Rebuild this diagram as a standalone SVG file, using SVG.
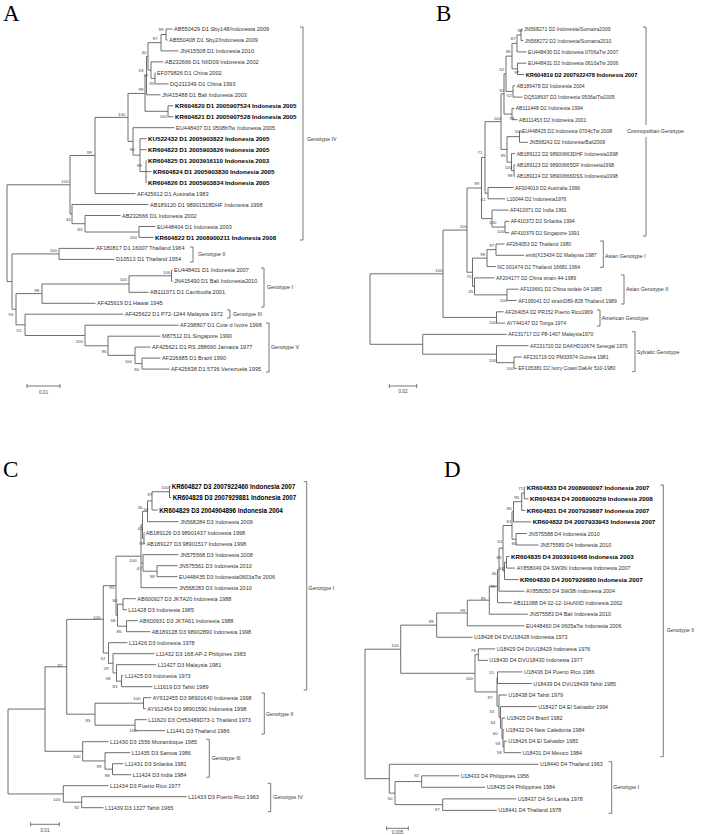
<svg xmlns="http://www.w3.org/2000/svg" width="703" height="835" viewBox="0 0 703 835">
<style>
text{font-family:"Liberation Sans",Arial,sans-serif;dominant-baseline:central;fill:#333}
.a{font-size:5.6px}.ab{font-size:6.2px;font-weight:bold;fill:#000}
.b{font-size:5.1px}.bb{font-size:5.7px;font-weight:bold;fill:#000}
.c{font-size:5.5px}.cb{font-size:6.3px;font-weight:bold;fill:#000}
.d{font-size:5.4px}.db{font-size:6.25px;font-weight:bold;fill:#000}
.bs{font-size:4.4px;text-anchor:middle;fill:#444}
.g{font-size:5.3px;fill:#333}
.sc{font-size:4.6px;text-anchor:middle;fill:#444}
.L{font-family:"Liberation Serif","Times New Roman",serif;font-size:23px;fill:#000;dominant-baseline:auto}
.tr{fill:none;stroke:#5e5e5e;stroke-width:0.9}
.br{fill:none;stroke:#555;stroke-width:0.8}
</style>
<rect width="703" height="835" fill="#fff"/>
<g id="letters">
<text class="L" x="3" y="21">A</text>
<text class="L" x="436" y="21">B</text>
<text class="L" x="3" y="477">C</text>
<text class="L" x="444" y="477">D</text>
</g>
<g id="connectors">
<path class="tr" d="M166 29V40M166 29H172.5M166 40H167.5M161 34.5V50.9M161 34.5H166M161 50.9H178.5M155 72.9V83.9M155 72.9H155.5M155 83.9H168.5M151 61.9V78.4M151 61.9H163.5M151 78.4H155M148 42.7V70.15M148 42.7H161M148 70.15H151M146.5 56.4V94.8M146.5 56.4H148M146.5 94.8H160.5M168 105.8V116.8M168 105.8H173.5M168 116.8H173.5M145 75.6V111.3M145 75.6H146.5M145 111.3H168M146 160.6V182.6M146 160.6H146.5M146 171.6H151.5M146 182.6H146.5M140 138.7V171.6M140 138.7H146.5M140 149.7H146.5M140 171.6H146M133 127.7V155.15M133 127.7H174.5M133 155.15H140M128 93.45V141.4M128 93.45H145M128 141.4H133M95 117.4V193.6M95 117.4H128M95 193.6H135.5M139 226.5V237.4M139 226.5H155.5M139 237.4H153.5M85 215.5V232M85 215.5H120.5M85 232H139M72 204.5V223.7M72 204.5H148.5M72 223.7H85M70 155.5V214.1M70 155.5H95M70 214.1H72M59 248.4V259.4M59 248.4H94.5M59 259.4H114.5M171.5 270.3V281.3M171.5 270.3H172.5M171.5 281.3H172.5M129 275.8V292.3M129 275.8H171.5M129 292.3H148.5M42 284V303.3M42 284H129M42 303.3H95.5M142 358.1V369.1M142 358.1H160.5M142 369.1H169.5M135 347.1V363.6M135 347.1H150.5M135 363.6H142M108 336.2V355.35M108 336.2H160.5M108 355.35H135M85 325.2V345.8M85 325.2H178.5M85 345.8H108M25 314.2V335.5M25 314.2H123.5M25 335.5H85M16 293.6V324.85M16 293.6H42M16 324.85H25M12 253.9V309.2M12 253.9H59M12 309.2H16M7 184.8V281.55M7 184.8H70M7 281.55H12"/>
<path class="tr" d="M521 29.3V40.6M521 29.3H522.5M521 40.6H523.2M517 34.95V51.9M517 34.95H521M517 51.9H526.5M517.5 63.2V74.5M517.5 63.2H526.5M517.5 74.5H524.2M512 43.4V68.85M512 43.4H517M512 68.85H517.5M513 85.8V97.1M513 85.8H515.2M513 97.1H522.5M506 56.1V91.45M506 56.1H512M506 91.45H513M512 108.4V119.7M512 108.4H514.2M512 119.7H517.5M504 73.8V114.05M504 73.8H506M504 114.05H512M519.5 131V142.3M519.5 131H520.5M519.5 142.3H527.8M514 164.9V176.2M514 164.9H515.2M514 176.2H515.2M511.5 153.6V170.55M511.5 153.6H515.2M511.5 170.55H514M507 136.65V162.1M507 136.65H519.5M507 162.1H511.5M501 93.9V149.4M501 93.9H504M501 149.4H507M488 187.5V198.8M488 187.5H513.5M488 198.8H505.2M485 121.65V193.15M485 121.65H501M485 193.15H488M505 221.4V232.7M505 221.4H509.2M505 232.7H509.2M492 210.1V227.05M492 210.1H508.5M492 227.05H505M481.5 157.4V218.6M481.5 157.4H485M481.5 218.6H492M496 244V255.3M496 244H504.5M496 255.3H524.2M487 249.65V266.6M487 249.65H496M487 266.6H495.8M507 289.2V300.5M507 289.2H518.5M507 300.5H516.8M474.5 277.9V294.85M474.5 277.9H494.5M474.5 294.85H507M472.5 258.1V286.4M472.5 258.1H487M472.5 286.4H474.5M467 188V272.25M467 188H481.5M467 272.25H472.5M496.5 311.8V323.1M496.5 311.8H503.5M496.5 323.1H505.2M443 230.1V317.45M443 230.1H467M443 317.45H496.5M514 357V368.3M514 357H521.8M514 368.3H516.8M496.5 345.7V362.65M496.5 345.7H528.5M496.5 362.65H514M422.7 334.4V354.2M422.7 334.4H506.8M422.7 354.2H496.5M370 273.8V344.3M370 273.8H443M370 344.3H422.7"/>
<path class="tr" d="M169.5 486V497.5M169.5 486H170.5M169.5 497.5H171.2M152 491.75V510M152 491.75H169.5M152 510H157.8M147.5 500.9V521.7M147.5 500.9H152M147.5 521.7H178.5M144 532.7V543.7M144 532.7H144.5M144 543.7H145.2M142.5 511.3V538.2M142.5 511.3H147.5M142.5 538.2H144M157 565.7V576.7M157 565.7H177.5M157 576.7H177.5M143 554.7V571.2M143 554.7H178.5M143 571.2H157M141 524.75V587.7M141 524.75H142.5M141 563H143M141 587.7H177.5M123 598.7V609.7M123 598.7H135.8M123 609.7H126.8M126.5 620.7V631.7M126.5 620.7H137.8M126.5 631.7H150.2M117.5 604.2V626.2M117.5 604.2H123M117.5 626.2H126.5M116 556.2V615.2M116 556.2H141M116 615.2H117.5M121.5 675.7V686.7M121.5 675.7H123.5M121.5 686.7H152.5M116.5 664.7V681.2M116.5 664.7H156.2M116.5 681.2H121.5M113 653.7V672.95M113 653.7H154.5M113 672.95H116.5M108.5 642.7V663.3M108.5 642.7H127.5M108.5 663.3H113M103.3 585.7V653M103.3 585.7H116M103.3 653H108.5M143.5 697.7V708.7M143.5 697.7H151.2M143.5 708.7H145.8M135 719.7V730.7M135 719.7H146.8M135 730.7H165.2M95 703.2V725.2M95 703.2H143.5M95 725.2H135M66.7 619.35V714.2M66.7 619.35H103.3M66.7 714.2H95M112.5 763.7V774.7M112.5 763.7H123.5M112.5 774.7H131.2M105 752.7V769.2M105 752.7H130.2M105 769.2H112.5M82.7 741.7V760.95M82.7 741.7H108.5M82.7 760.95H105M45 666.8V751.3M45 666.8H66.7M45 751.3H82.7M81.7 796.7V807.7M81.7 796.7H186.8M81.7 807.7H103.5M63.3 785.7V802.2M63.3 785.7H108.5M63.3 802.2H81.7M8 709.05V793.95M8 709.05H45M8 793.95H63.3"/>
<path class="tr" d="M524.3 487.3V498.8M524.3 487.3H525.2M524.3 498.8H528.5M521.7 493.05V510.4M521.7 493.05H524.3M521.7 510.4H525.2M513.5 501.7V521.9M513.5 501.7H521.7M513.5 521.9H531.2M516 533.5V545M516 533.5H526.8M516 545H538.5M512 511.8V539.25M512 511.8H513.5M512 539.25H516M506.5 556.5V568.1M506.5 556.5H509.5M506.5 568.1H515.2M504.5 562.3V579.6M504.5 562.3H506.5M504.5 579.6H518.5M503 525.5V570.95M503 525.5H512M503 570.95H504.5M499 548.2V591.2M499 548.2H503M499 591.2H524.5M497.5 569.7V602.7M497.5 569.7H499M497.5 602.7H511.8M489.3 586.2V614.2M489.3 586.2H497.5M489.3 614.2H527.8M467.3 600.2V625.8M467.3 600.2H489.3M467.3 625.8H524.5M436.7 613V637.3M436.7 613H467.3M436.7 637.3H472.5M478.3 648.9V660.4M478.3 648.9H495.2M478.3 660.4H487.8M497.5 671.9V683.5M497.5 671.9H522.5M497.5 683.5H531.8M504 741.2V752.7M504 741.2H506.8M504 752.7H521.2M503 729.6V746.95M503 729.6H504.2M503 746.95H504M502 718.1V738.3M502 718.1H505.2M502 738.3H503M500.5 706.6V728.2M500.5 706.6H536.8M500.5 728.2H502M499 695V717.4M499 695H506.8M499 717.4H500.5M497 677.7V706.2M497 677.7H497.5M497 706.2H499M475 654.65V691.95M475 654.65H478.3M475 691.95H497M400.7 625.15V673.3M400.7 625.15H436.7M400.7 673.3H475M421.7 775.8V787.3M421.7 775.8H459.2M421.7 787.3H485.2M442.7 798.9V810.4M442.7 798.9H516.2M442.7 810.4H496.8M395 781.55V804.65M395 781.55H421.7M395 804.65H442.7M389.3 764.3V793.1M389.3 764.3H538.5M389.3 793.1H395M365 649.2V778.7M365 649.2H400.7M365 778.7H389.3"/>
</g>
<g id="leavesA">
<g id="a1"><text class="a" x="174" y="29">AB550429 D1 Sby148/Indonesia 2009</text></g>
<g id="a2"><text class="a" x="169" y="40">AB550408 D1 Sby2/Indonesia 2009</text></g>
<g id="a3"><text class="a" x="180" y="50.9">JN415508 D1 Indonesia 2010</text></g>
<g id="a4"><text class="a" x="165" y="61.9">AB232666 D1 NIID09 Indonesia 2002</text></g>
<g id="a5"><text class="a" x="157" y="72.9">EF079826 D1 China 2002</text></g>
<g id="a6"><text class="a" x="170" y="83.9">DQ211349 D1 China 1993</text></g>
<g id="a7"><text class="a" x="162" y="94.8">JN415488 D1 Bali Indonesia 2003</text></g>
<g id="a8"><text class="ab" x="175" y="105.8">KR604820 D1 2005907524 Indonesia 2005</text></g>
<g id="a9"><text class="ab" x="175" y="116.8">KR604821 D1 2005907528 Indonesia 2005</text></g>
<g id="a10"><text class="a" x="176" y="127.7">EU448407 D1 0508bTw Indonesia 2005</text></g>
<g id="a11"><text class="ab" x="148" y="138.7">KU522432 D1 2005903822 Indonesia 2005</text></g>
<g id="a12"><text class="ab" x="148" y="149.7">KR604823 D1 2005903826 Indonesia 2005</text></g>
<g id="a13"><text class="ab" x="148" y="160.6">KR604825 D1 2003916110 Indonesia 2003</text></g>
<g id="a14"><text class="ab" x="153" y="171.6">KR604824 D1 2005903830 Indonesia 2005</text></g>
<g id="a15"><text class="ab" x="148" y="182.6">KR604826 D1 2005903834 Indonesia 2005</text></g>
<g id="a16"><text class="a" x="137" y="193.6">AF425612 D1 Australia 1983</text></g>
<g id="a17"><text class="a" x="150" y="204.5">AB189120 D1 98901518DHF Indonesia 1998</text></g>
<g id="a18"><text class="a" x="122" y="215.5">AB232666 D1 Indonesia 2002</text></g>
<g id="a19"><text class="a" x="157" y="226.5">EU448404 D1 Indonesia 2003</text></g>
<g id="a20"><text class="ab" x="155" y="237.4">KR604822 D1 2008900211 Indonesia 2008</text></g>
<g id="a21"><text class="a" x="96" y="248.4">AF180817 D1 16007 Thailand 1964</text></g>
<g id="a22"><text class="a" x="116" y="259.4">D10513 D1 Thailand 1954</text></g>
<g id="a23"><text class="a" x="174" y="270.3">EU448401 D1 Indonesia 2007</text></g>
<g id="a24"><text class="a" x="174" y="281.3">JN415490 D1 Bali Indonesia2010</text></g>
<g id="a25"><text class="a" x="150" y="292.3">AB111071 D1 Cambodia 2001</text></g>
<g id="a26"><text class="a" x="97" y="303.3">AF425619 D1 Hawai 1945</text></g>
<g id="a27"><text class="a" x="125" y="314.2">AF425622 D1 P72-1244 Malaysia 1972</text></g>
<g id="a28"><text class="a" x="180" y="325.2">AF298807 D1 Cote d Ivoire 1998</text></g>
<g id="a29"><text class="a" x="162" y="336.2">M87512 D1 Singapore 1990</text></g>
<g id="a30"><text class="a" x="152" y="347.1">AF425621 D1 RS 288690 Jamaica 1977</text></g>
<g id="a31"><text class="a" x="162" y="358.1">AF226685 D1 Brazil 1990</text></g>
<g id="a32"><text class="a" x="171" y="369.1">AF425638 D1 5736 Venezuela 1995</text></g>
</g>
<g id="leavesB">
<g id="b1"><text class="b" x="524" y="29.3">JN568271 D2 Indonesia/Sumatra2009</text></g>
<g id="b2"><text class="b" x="524.7" y="40.6">JN568272 D2 Indonesia/Sumatra2010</text></g>
<g id="b3"><text class="b" x="528" y="51.9">EU448430 D2 Indonesia 0706aTw 2007</text></g>
<g id="b4"><text class="b" x="528" y="63.2">EU448431 D2 Indonesia 0610aTw 2006</text></g>
<g id="b5"><text class="bb" x="525.7" y="74.5">KR604819 D2 2007922478 Indonesia 2007</text></g>
<g id="b6"><text class="b" x="516.7" y="85.8">AB186478 D2 Indonesia 2004</text></g>
<g id="b7"><text class="b" x="524" y="97.1">DQ518637 D2 Indonesia 0506a/Tw2005</text></g>
<g id="b8"><text class="b" x="515.7" y="108.4">AB111448 D2 Indonesia 1994</text></g>
<g id="b9"><text class="b" x="519" y="119.7">AB111453 D2 Indonesia 2001</text></g>
<g id="b10"><text class="b" x="522" y="131">EU448425 D2 Indonesia 0704cTw 2008</text></g>
<g id="b11"><text class="b" x="529.3" y="142.3">JN568242 D2 Indonesia/Bali2009</text></g>
<g id="b12"><text class="b" x="516.7" y="153.6">AB189122 D2 98900663DHF Indonesia1998</text></g>
<g id="b13"><text class="b" x="516.7" y="164.9">AB189123 D2 98900665DF Indonesia1998</text></g>
<g id="b14"><text class="b" x="516.7" y="176.2">AB189124 D2 98900666DSS Indonesia1998</text></g>
<g id="b15"><text class="b" x="515" y="187.5">AF004019 D2 Australia 1996</text></g>
<g id="b16"><text class="b" x="506.7" y="198.8">L10044 D2 Indonesia1976</text></g>
<g id="b17"><text class="b" x="510" y="210.1">AF410371 D2 India 1991</text></g>
<g id="b18"><text class="b" x="510.7" y="221.4">AF410372 D2 Srilanka 1994</text></g>
<g id="b19"><text class="b" x="510.7" y="232.7">AF410379 D2 Singapore 1991</text></g>
<g id="b20"><text class="b" x="506" y="244">AF264053 D2 Thailand 1980</text></g>
<g id="b21"><text class="b" x="525.7" y="255.3">emb|X15434 D2 Malaysia 1987</text></g>
<g id="b22"><text class="b" x="497.3" y="266.6">NC 001474 D2 Thailand 16681 1964</text></g>
<g id="b23"><text class="b" x="496" y="277.9">AF204177 D2 China strain 44-1989</text></g>
<g id="b24"><text class="b" x="520" y="289.2">AF119661 D2 China isolate 04 1985</text></g>
<g id="b25"><text class="b" x="518.3" y="300.5">AF195041 D2 strainD89-828 Thailand 1989</text></g>
<g id="b26"><text class="b" x="505" y="311.8">AF264054 D2 PR152 Puerto Rico1969</text></g>
<g id="b27"><text class="b" x="506.7" y="323.1">AY744147 D2 Tonga 1974</text></g>
<g id="b28"><text class="b" x="508.3" y="334.4">AF231717 D2 P8-1407 Malaysia1970</text></g>
<g id="b29"><text class="b" x="530" y="345.7">AF231720 D2 DAKHD10674 Senegal 1970</text></g>
<g id="b30"><text class="b" x="523.3" y="357">AF231719 D2 PM33974 Guinea 1981</text></g>
<g id="b31"><text class="b" x="518.3" y="368.3">EF105381 D2 Ivory Coast DakAr 510-1980</text></g>
</g>
<g id="leavesC">
<g id="c1"><text class="cb" x="171.7" y="486">KR604827 D3 2007922460 Indonesia 2007</text></g>
<g id="c2"><text class="cb" x="172.7" y="497.5">KR604828 D3 2007929881 Indonesia 2007</text></g>
<g id="c3"><text class="cb" x="159.3" y="510">KR604829 D3 2004904896 Indonesia 2004</text></g>
<g id="c4"><text class="c" x="180" y="521.7">JN568284 D3 Indonesia 2009</text></g>
<g id="c5"><text class="c" x="145.7" y="532.7">AB189126 D3 98901437 Indonesia 1998</text></g>
<g id="c6"><text class="c" x="146.7" y="543.7">AB189127 D3 98901517 Indonesia 1998</text></g>
<g id="c7"><text class="c" x="180" y="554.7">JN575568 D3 Indonesia 2008</text></g>
<g id="c8"><text class="c" x="179" y="565.7">JN575561 D3 Indonesia 2010</text></g>
<g id="c9"><text class="c" x="179" y="576.7">EU448435 D3 Indonesia0603aTw 2006</text></g>
<g id="c10"><text class="c" x="179" y="587.7">JN568283 D3 Indonesia 2010</text></g>
<g id="c11"><text class="c" x="137.3" y="598.7">AB600927 D3 JKTA20 Indonesia 1988</text></g>
<g id="c12"><text class="c" x="128.3" y="609.7">L11428 D3 Indonesia 1985</text></g>
<g id="c13"><text class="c" x="139.3" y="620.7">AB600931 D3 JKTA61 Indonesia 1988</text></g>
<g id="c14"><text class="c" x="151.7" y="631.7">AB189128 D3 98902890 Indonesia 1998</text></g>
<g id="c15"><text class="c" x="129" y="642.7">L11426 D3 Indonesia 1978</text></g>
<g id="c16"><text class="c" x="156" y="653.7">L11432 D3 168.AP-2 Philipines 1983</text></g>
<g id="c17"><text class="c" x="157.7" y="664.7">L11427 D3 Malaysia 1981</text></g>
<g id="c18"><text class="c" x="125" y="675.7">L11425 D3 Indonesia 1973</text></g>
<g id="c19"><text class="c" x="154" y="686.7">L11619 D3 Tahiti 1989</text></g>
<g id="c20"><text class="c" x="152.7" y="697.7">AY912455 D3 98901640 Indonesia 1998</text></g>
<g id="c21"><text class="c" x="147.3" y="708.7">AY912454 D3 98901590 Indonesia 1998</text></g>
<g id="c22"><text class="c" x="148.3" y="719.7">L11620 D3 CH53489D73-1 Thailand 1973</text></g>
<g id="c23"><text class="c" x="166.7" y="730.7">L11441 D3 Thailand 1986</text></g>
<g id="c24"><text class="c" x="110" y="741.7">L11430 D3 1556 Mozambique 1985</text></g>
<g id="c25"><text class="c" x="131.7" y="752.7">L11435 D3 Samoa 1986</text></g>
<g id="c26"><text class="c" x="125" y="763.7">L11431 D3 Srilanka 1981</text></g>
<g id="c27"><text class="c" x="132.7" y="774.7">L11424 D3 India 1984</text></g>
<g id="c28"><text class="c" x="110" y="785.7">L11434 D3 Puerto Rico 1977</text></g>
<g id="c29"><text class="c" x="188.3" y="796.7">L11433 D3 Puerto Rico 1963</text></g>
<g id="c30"><text class="c" x="105" y="807.7">L11439 D3 1327 Tahiti 1965</text></g>
</g>
<g id="leavesD">
<g id="d1"><text class="db" x="526.7" y="487.3">KR604833 D4 2008900097 Indonesia 2007</text></g>
<g id="d2"><text class="db" x="530" y="498.8">KR604834 D4 2008900259 Indonesia 2008</text></g>
<g id="d3"><text class="db" x="526.7" y="510.4">KR604831 D4 2007929887 Indonesia 2007</text></g>
<g id="d4"><text class="db" x="532.7" y="521.9">KR604832 D4 2007933943 Indonesia 2007</text></g>
<g id="d5"><text class="d" x="528.3" y="533.5">JN575588 D4 Indonesia 2010</text></g>
<g id="d6"><text class="d" x="540" y="545">JN575589 D4 Indonesia 2010</text></g>
<g id="d7"><text class="db" x="511" y="556.5">KR604835 D4 2003910468 Indonesia 2003</text></g>
<g id="d8"><text class="d" x="516.7" y="568.1">AY858049 D4 SW36i Indonesia Indonesia 2007</text></g>
<g id="d9"><text class="db" x="520" y="579.6">KR604830 D4 2007929880 Indonesia 2007</text></g>
<g id="d10"><text class="d" x="526" y="591.2">AY858050 D4 SW38i Indonesia 2004</text></g>
<g id="d11"><text class="d" x="513.3" y="602.7">AB111088 D4 02-12-1HuNIID Indonesia 2002</text></g>
<g id="d12"><text class="d" x="529.3" y="614.2">JN575583 D4 Bali Indonesia 2010</text></g>
<g id="d13"><text class="d" x="526" y="625.8">EU448460 D4 0605aTw Indonesia 2006</text></g>
<g id="d14"><text class="d" x="474" y="637.3">U18428 D4 DVU18428 Indonesia 1973</text></g>
<g id="d15"><text class="d" x="496.7" y="648.9">U18429 D4 DVU18429 Indonesia 1976</text></g>
<g id="d16"><text class="d" x="489.3" y="660.4">U18430 D4 DVU18430 Indonesia 1977</text></g>
<g id="d17"><text class="d" x="524" y="671.9">U18436 D4 Puerto Rico 1986</text></g>
<g id="d18"><text class="d" x="533.3" y="683.5">U18439 D4 DVU18439 Tahiti 1985</text></g>
<g id="d19"><text class="d" x="508.3" y="695">U18438 D4 Tahiti 1979</text></g>
<g id="d20"><text class="d" x="538.3" y="706.6">U18427 D4 El Salvador 1994</text></g>
<g id="d21"><text class="d" x="506.7" y="718.1">U18425 D4 Brazil 1982</text></g>
<g id="d22"><text class="d" x="505.7" y="729.6">U18432 D4 New Caledonia 1984</text></g>
<g id="d23"><text class="d" x="508.3" y="741.2">U18426 D4 El Salvador 1983</text></g>
<g id="d24"><text class="d" x="522.7" y="752.7">U18431 D4 Mexico 1984</text></g>
<g id="d25"><text class="d" x="540" y="764.3">U18440 D4 Thailand 1963</text></g>
<g id="d26"><text class="d" x="460.7" y="775.8">U18433 D4 Philippines 1956</text></g>
<g id="d27"><text class="d" x="486.7" y="787.3">U18435 D4 Philippines 1984</text></g>
<g id="d28"><text class="d" x="517.7" y="798.9">U18437 D4 Sri Lanka 1978</text></g>
<g id="d29"><text class="d" x="498.3" y="810.4">U18441 D4 Thailand 1978</text></g>
</g>
<g id="bootstrap">
<text class="bs" x="161" y="29.7">99</text><text class="bs" x="155" y="38.7">97</text><text class="bs" x="144" y="52.7">40</text><text class="bs" x="141" y="70.7">53</text><text class="bs" x="145.7" y="75">72</text><text class="bs" x="151.7" y="83.3">93</text><text class="bs" x="141" y="89.3">99</text><text class="bs" x="121.7" y="114.3">100</text><text class="bs" x="163.3" y="116.7">100</text><text class="bs" x="132.3" y="149.3">96</text><text class="bs" x="89.3" y="152.7">99</text><text class="bs" x="139.3" y="165">99</text><text class="bs" x="65" y="181.7">100</text><text class="bs" x="68.3" y="219.3">34</text><text class="bs" x="80" y="229.3">83</text><text class="bs" x="133.3" y="237.3">100</text><text class="bs" x="53.3" y="250">100</text><text class="bs" x="166.7" y="272.3">100</text><text class="bs" x="123.3" y="279">100</text><text class="bs" x="36.7" y="290">98</text><text class="bs" x="11" y="314.3">55</text><text class="bs" x="19" y="330">51</text><text class="bs" x="79.3" y="341">100</text><text class="bs" x="104" y="351">96</text><text class="bs" x="128.3" y="361">100</text><text class="bs" x="136.7" y="369.3">80</text>
<text class="bs" x="520" y="30.7">90</text><text class="bs" x="513.3" y="38.3">87</text><text class="bs" x="508.3" y="51.7">96</text><text class="bs" x="501.7" y="69.3">52</text><text class="bs" x="516.7" y="72.7">97</text><text class="bs" x="501.7" y="90">92</text><text class="bs" x="509.3" y="95.7">52</text><text class="bs" x="497.3" y="118.3">100</text><text class="bs" x="511.7" y="118.3">79</text><text class="bs" x="518.3" y="131">100</text><text class="bs" x="503.3" y="155">95</text><text class="bs" x="480" y="152.7">71</text><text class="bs" x="508.3" y="167.3">100</text><text class="bs" x="510" y="175">98</text><text class="bs" x="476.7" y="183.3">99</text><text class="bs" x="483.3" y="199.3">61</text><text class="bs" x="492.7" y="222.7">100</text><text class="bs" x="500.7" y="231.7">100</text><text class="bs" x="463.3" y="226">100</text><text class="bs" x="491.7" y="245">97</text><text class="bs" x="482.7" y="254">99</text><text class="bs" x="439" y="270">100</text><text class="bs" x="469" y="276.7">70</text><text class="bs" x="470.7" y="291.7">45</text><text class="bs" x="503.3" y="300">100</text><text class="bs" x="492.7" y="322.7">100</text><text class="bs" x="492.7" y="360">100</text><text class="bs" x="510" y="368.3">100</text>
<text class="bs" x="165" y="487">100</text><text class="bs" x="150" y="494">87</text><text class="bs" x="140" y="507">36</text><text class="bs" x="146" y="509">58</text><text class="bs" x="140" y="528">42</text><text class="bs" x="141.7" y="543">99</text><text class="bs" x="133" y="560">100</text><text class="bs" x="139" y="568">47</text><text class="bs" x="152.3" y="576.7">98</text><text class="bs" x="111.7" y="587">93</text><text class="bs" x="115" y="600">80</text><text class="bs" x="113" y="620">58</text><text class="bs" x="119" y="631">86</text><text class="bs" x="96.7" y="617">100</text><text class="bs" x="103" y="658">52</text><text class="bs" x="106" y="668">29</text><text class="bs" x="108" y="678">58</text><text class="bs" x="115" y="686">83</text><text class="bs" x="60" y="665">92</text><text class="bs" x="136.7" y="698">100</text><text class="bs" x="88" y="720">85</text><text class="bs" x="133" y="730">100</text><text class="bs" x="76.7" y="756">100</text><text class="bs" x="99" y="766.7">99</text><text class="bs" x="107.3" y="775">88</text><text class="bs" x="56.7" y="799.3">100</text><text class="bs" x="76.7" y="807.3">92</text>
<text class="bs" x="520.7" y="488.3">72</text><text class="bs" x="516.7" y="497">95</text><text class="bs" x="509.3" y="508">85</text><text class="bs" x="509" y="521.7">81</text><text class="bs" x="500" y="541">61</text><text class="bs" x="514" y="543">80</text><text class="bs" x="499" y="557.7">85</text><text class="bs" x="501.7" y="568.3">64</text><text class="bs" x="494" y="573.3">46</text><text class="bs" x="492.7" y="586">95</text><text class="bs" x="483.3" y="598.3">95</text><text class="bs" x="462.7" y="610">99</text><text class="bs" x="431" y="621.7">99</text><text class="bs" x="395" y="645">100</text><text class="bs" x="473.3" y="650">78</text><text class="bs" x="491.7" y="672.7">51</text><text class="bs" x="469.3" y="678.3">100</text><text class="bs" x="490" y="697.7">97</text><text class="bs" x="491.7" y="711">33</text><text class="bs" x="492.7" y="722.3">34</text><text class="bs" x="495.3" y="733.3">60</text><text class="bs" x="497.7" y="743.3">58</text><text class="bs" x="499.3" y="752.3">58</text><text class="bs" x="416.7" y="775.7">92</text><text class="bs" x="390" y="798.3">50</text><text class="bs" x="437.3" y="809">97</text>
</g>
<g id="brackets">
<path class="br" d="M300 27H303V240H300M190 247H193V262H190M261 268H264V307H261M227 310H230V318H227M266 323H269V372H266"/>
<path class="br" d="M643 27H646V125M646 137V236H643M600 241H603.3V267.3H600M621 275H624V304H621M597 310H600V326H597M632 331.7H635V371.7H632"/>
<path class="br" d="M303.7 481.7H306.7V690H303.7M261.3 693H264.3V734H261.3M206.3 739.3H209.3V777.3H206.3M267.7 783.3H270.7V811.7H267.7"/>
<path class="br" d="M660.3 485H663.3V756.7H660.3M608.7 761.7H611.7V813.3H608.7"/>
<g id="gA4"><text class="g" x="307" y="139">Genotype IV</text></g>
<g id="gA2"><text class="g" x="198" y="254">Genotype II</text></g>
<g id="gA1"><text class="g" x="267" y="287">Genotype I</text></g>
<g id="gA3"><text class="g" x="233" y="314">Genotype III</text></g>
<g id="gA5"><text class="g" x="271" y="347">Genotype V</text></g>
<g id="gBc"><text class="g" x="627" y="131">Cosmopolitan Genotype</text></g>
<g id="gBa1"><text class="g" x="605" y="255.7">Asian Genotype I</text></g>
<g id="gBa2"><text class="g" x="626" y="289.3">Asian Genotype II</text></g>
<g id="gBam"><text class="g" x="601.7" y="317.7">American Genotype</text></g>
<g id="gBs"><text class="g" x="636.7" y="351.7">Sylvatic Genotype</text></g>
<g id="gC1"><text class="g" x="308.3" y="587.7">Genotype I</text></g>
<g id="gC2"><text class="g" x="266" y="714">Genotype II</text></g>
<g id="gC3"><text class="g" x="211.7" y="758.3">Genotype III</text></g>
<g id="gC4"><text class="g" x="273.3" y="796.7">Genotype IV</text></g>
<g id="gD2"><text class="g" x="666.7" y="630">Genotype II</text></g>
<g id="gD1"><text class="g" x="613.3" y="787.3">Genotype I</text></g>
</g>
<g id="scalebars">
<path class="br" d="M27 386H60M27 384V388M60 384V388M389.3 386H416.7M389.3 384V388M416.7 384V388M30.7 824.3H59.3M30.7 822.3V826.3M59.3 822.3V826.3M386.7 828.3H408.3M386.7 826.3V830.3M408.3 826.3V830.3"/>
<text class="sc" x="43.5" y="392">0.01</text>
<text class="sc" x="403" y="391.5">0.02</text>
<text class="sc" x="45" y="830">0.01</text>
<text class="sc" x="397.5" y="832.5">0.005</text>
</g>
</svg>
